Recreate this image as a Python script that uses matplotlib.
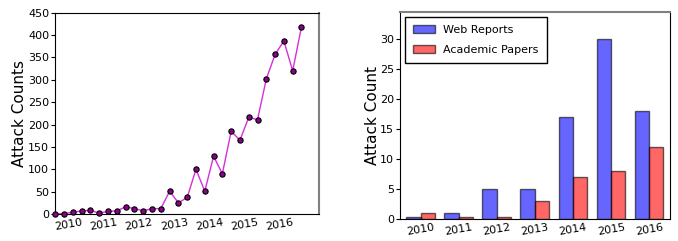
import matplotlib
matplotlib.use('Agg')
import matplotlib.pyplot as plt
import numpy as np

# quarterly attack counts (left)
quarter_counts = [0, 1, 4, 7, 8, 2, 6, 7, 16, 12, 7, 12, 12, 51, 25, 37,
                  100, 51, 129, 90, 185, 165, 216, 211, 302, 357, 387, 320, 419]
year_labels = ['2010', '2011', '2012', '2013', '2014', '2015', '2016']

# yearly counts by source (right)
web_reports = [0.4, 1, 5, 5, 17, 30, 18]
academic_papers = [1, 0.4, 0.4, 3, 7, 8, 12]


def left_pic(fig):
    ax = fig.add_axes([0.0816, 0.112, 0.389, 0.835])
    x = np.arange(len(quarter_counts))
    ax.plot(x, quarter_counts, color='#d630d6', linewidth=1, zorder=2)
    ax.plot(x, quarter_counts, linestyle='none', marker='o', markersize=3.8,
            markerfacecolor='#8a008a', markeredgecolor='black',
            markeredgewidth=0.8, zorder=3, clip_on=False)
    ax.set_xlim(0, 30)
    ax.set_ylim(0, 450)
    ax.set_yticks(np.arange(0, 451, 50))
    ax.set_xticks(np.arange(len(year_labels)) * 4 + 1.5)
    ax.set_xticklabels(year_labels, rotation=10)
    ax.tick_params(axis='x', length=0, pad=2.5, labelsize=8)
    ax.tick_params(axis='y', direction='out', length=3, labelsize=8, pad=1.5)
    ax.yaxis.set_ticks_position('left')
    ax.set_ylabel('Attack Counts', fontsize=11, labelpad=0.5)
    ax.spines['right'].set_color('#808080')
    ax.spines['right'].set_linewidth(1.5)


def right_pic(fig):
    ax = fig.add_axes([0.590, 0.0913, 0.398, 0.859])
    x = np.arange(len(year_labels))
    w = 0.38
    ax.bar(x - w / 2, web_reports, w, color='blue', alpha=0.6,
           edgecolor='black', linewidth=1, label='Web Reports')
    ax.bar(x + w / 2, academic_papers, w, color='red', alpha=0.6,
           edgecolor='black', linewidth=1, label='Academic Papers')
    ax.set_xlim(-0.55, 6.55)
    ax.set_ylim(0, 34.5)
    ax.set_xticks(x)
    ax.set_xticklabels(year_labels, rotation=10)
    ax.tick_params(axis='x', length=0, pad=2, labelsize=8)
    ax.tick_params(axis='y', direction='out', length=3, labelsize=8, pad=1.5)
    ax.yaxis.set_ticks_position('left')
    ax.set_yticks([0, 5, 10, 15, 20, 25, 30])
    ax.set_ylabel('Attack Count', fontsize=11, labelpad=0)
    ax.spines['top'].set_color('#808080')
    ax.spines['top'].set_linewidth(1.5)
    leg = ax.legend(loc='upper left', fontsize=8, fancybox=False,
                    framealpha=1, edgecolor='black', borderaxespad=0.45,
                    handlelength=2.0, labelspacing=0.9, handletextpad=0.75,
                    borderpad=0.7)
    leg.get_frame().set_linewidth(1)


def main():
    fig = plt.figure(figsize=(6.78, 2.41), dpi=100)
    left_pic(fig)
    right_pic(fig)
    fig.savefig('out.png', dpi=100)


if __name__ == '__main__':
    main()
